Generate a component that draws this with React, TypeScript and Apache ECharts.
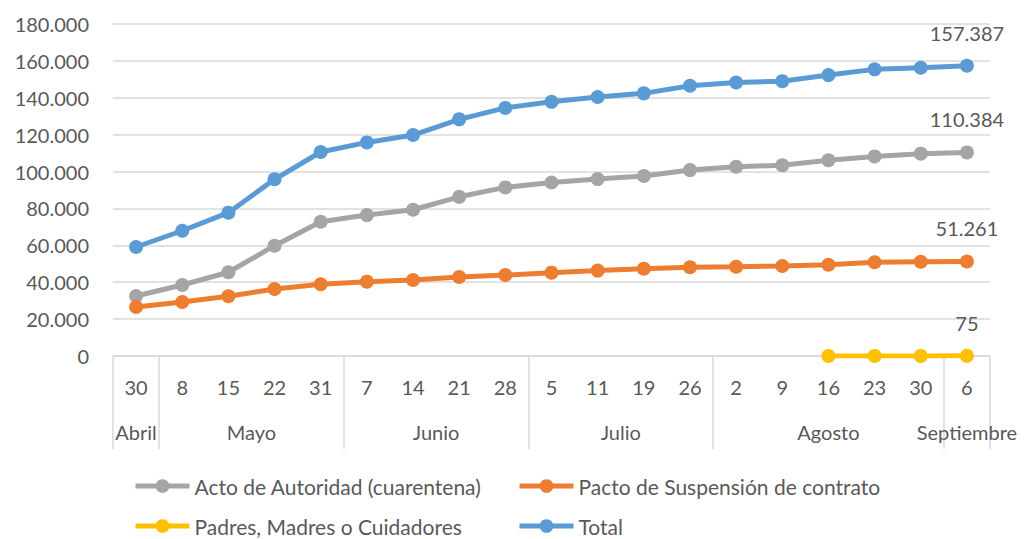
import React, { useEffect, useRef } from "react";
import * as echarts from "echarts";

const days = ["30", "8", "15", "22", "31", "7", "14", "21", "28", "5", "11", "19", "26", "2", "9", "16", "23", "30", "6"];
const months = ["Abril", "Mayo", "Junio", "Julio", "Agosto", "Septiembre"];
const monthSpans = [1, 4, 4, 4, 5, 1];

const acto = [32500, 38500, 45400, 59800, 72800, 76400, 79300, 86300, 91400, 94100, 95900, 97600, 100800, 102600, 103400, 106100, 108200, 109700, 110384];
const pacto = [26600, 29300, 32400, 36300, 38900, 40300, 41200, 42800, 43900, 45200, 46300, 47300, 48100, 48400, 48800, 49500, 50800, 51100, 51261];
const padres = [null, null, null, null, null, null, null, null, null, null, null, null, null, null, null, 15, 35, 55, 75];
const total = [59100, 67900, 77700, 95800, 110600, 115800, 119800, 128300, 134500, 137800, 140400, 142400, 146500, 148300, 149000, 152300, 155400, 156300, 157387];

const seriesNames = ["Acto de Autoridad (cuarentena)", "Pacto de Suspensión de contrato", "Padres, Madres o Cuidadores", "Total"];
const seriesColors = ["#A5A5A5", "#ED7D31", "#FFC000", "#5B9BD5"];
const seriesData = [acto, pacto, padres, total];

const fmt = (v: number) => String(Math.round(v)).replace(/\B(?=(\d{3})+(?!\d))/g, ".");

export default function App() {
  const ref = useRef<HTMLDivElement>(null);
  useEffect(() => {
    if (!ref.current) return;
    const chart = echarts.init(ref.current, undefined, { renderer: "svg" });
    const font = "Lato";
    const textColor = "#595959";
    const gridColor = "#D9D9D9";

    const bounds: number[] = [0];
    const centers: number[] = [];
    let acc = 0;
    monthSpans.forEach((s) => {
      centers.push(acc + s / 2);
      acc += s;
      bounds.push(acc);
    });

    const last = days.length - 1;
    const legendPos = [
      { left: 133, top: 475 },
      { left: 517, top: 475 },
      { left: 133, top: 515 },
      { left: 517, top: 515 },
    ];

    chart.setOption({
      animation: false,
      backgroundColor: "#ffffff",
      grid: { left: 113, right: 41, top: 24, bottom: 183, containLabel: false },
      legend: seriesNames.map((n, i) => ({
        data: [n],
        left: legendPos[i].left,
        top: legendPos[i].top,
        padding: 0,
        itemWidth: 54,
        itemHeight: 17,
        itemGap: 0,
        textStyle: { fontFamily: font, fontSize: 21, color: textColor, lineHeight: 22 },
        lineStyle: { width: 5 },
        selectedMode: false,
      })),
      xAxis: [
        {
          type: "category",
          data: days,
          boundaryGap: true,
          axisLine: { show: true, lineStyle: { color: gridColor, width: 1.5 } },
          axisTick: { show: false },
          axisLabel: { interval: 0, color: textColor, fontFamily: font, fontSize: 20, margin: 21 },
          splitLine: { show: false },
        },
        {
          type: "value",
          min: 0,
          max: days.length,
          position: "bottom",
          axisLine: { show: false },
          splitLine: { show: false },
          axisTick: { show: true, customValues: bounds, length: 93, inside: false, lineStyle: { color: gridColor, width: 1.5 } },
          axisLabel: {
            show: true,
            customValues: centers,
            margin: 66,
            color: textColor,
            fontFamily: font,
            fontSize: 20,
            formatter: (v: number) => {
              const idx = centers.findIndex((c) => Math.abs(c - v) < 1e-6);
              return idx >= 0 ? months[idx] : "";
            },
          },
        },
      ],
      yAxis: {
        type: "value",
        min: 0,
        max: 180000,
        interval: 20000,
        axisLine: { show: false },
        axisTick: { show: false },
        splitLine: { lineStyle: { color: gridColor, width: 1.5 } },
        axisLabel: { color: textColor, fontFamily: font, fontSize: 20, margin: 24, formatter: (v: number) => fmt(v) },
      },
      series: seriesNames.map((n, i) => ({
        name: n,
        type: "line",
        xAxisIndex: 0,
        data: seriesData[i],
        color: seriesColors[i],
        lineStyle: { width: 5, color: seriesColors[i] },
        itemStyle: { color: seriesColors[i] },
        symbol: "circle",
        symbolSize: 14,
        z: i === 3 ? 4 : 2,
        label: {
          show: true,
          position: "top",
          distance: 16,
          color: textColor,
          fontFamily: font,
          fontSize: 20,
          formatter: (p: any) => (p.dataIndex === last && p.value != null ? fmt(p.value as number) : ""),
        },
      })),
    });
    return () => chart.dispose();
  }, []);
  return <div ref={ref} style={{ position: "fixed", left: 0, top: 0, width: 1031, height: 539 }} />;
}
